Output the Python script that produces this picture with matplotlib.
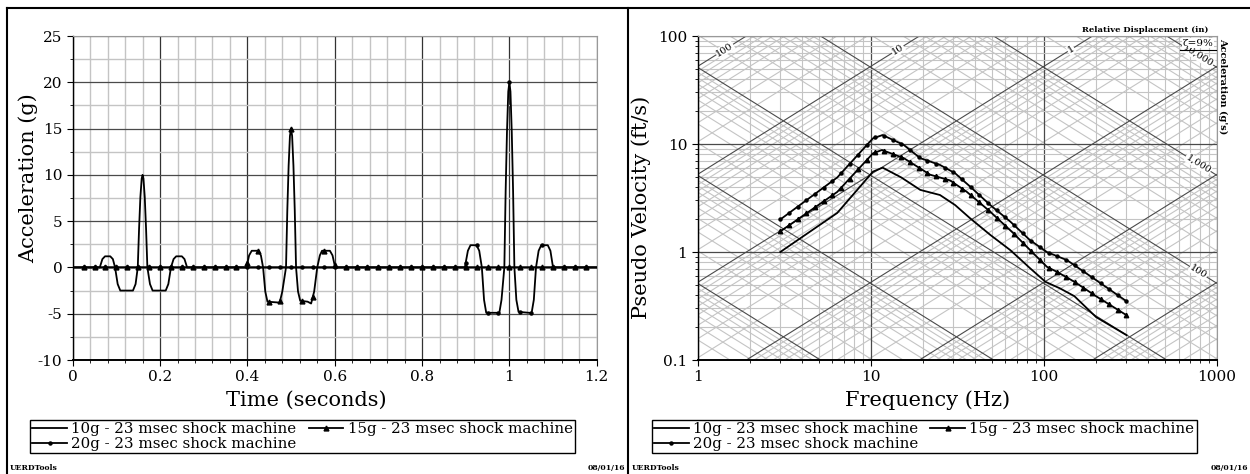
import numpy as np
import matplotlib
matplotlib.use("Agg")
import matplotlib.pyplot as plt
from matplotlib.lines import Line2D
from matplotlib.ticker import MultipleLocator, FuncFormatter, NullFormatter, LogLocator

plt.rcParams['font.family'] = 'DejaVu Serif'
plt.rcParams['axes.unicode_minus'] = False

# ---- time histories (seconds, g) ----
t10 = [0, 0.062, 0.068, 0.074, 0.086, 0.092, 0.097, 0.103, 0.109, 0.138, 0.144, 0.149,
       0.152, 0.155, 0.158, 0.160, 0.162, 0.165, 0.168, 0.171, 0.177, 0.183, 0.213,
       0.219, 0.225, 0.231, 0.237, 0.250, 0.256, 0.262, 1.2]
a10 = [0, 0, 0.9, 1.2, 1.2, 0.9, 0, -1.8, -2.5, -2.5, -1.8, 0,
       4.2, 7.6, 9.6, 10.0, 9.6, 7.6, 4.2, 0, -1.8, -2.5, -2.5,
       -1.8, 0, 0.9, 1.2, 1.2, 0.9, 0, 0]

t15 = [0, 0.398, 0.404, 0.410, 0.425, 0.431, 0.436, 0.441, 0.446, 0.474, 0.480, 0.4885,
       0.4915, 0.4945, 0.4975, 0.500, 0.5025, 0.5055, 0.5085, 0.5115, 0.516, 0.521,
       0.538, 0.546, 0.553, 0.560, 0.566, 0.571, 0.589, 0.595, 0.601, 1.2]
a15 = [0, 0, 1.3, 1.8, 1.8, 1.3, 0, -2.6, -3.7, -3.8, -2.6, 0,
       6.2, 11.0, 14.2, 15.0, 14.2, 11.0, 6.2, 0, -2.6, -3.6,
       -3.7, -3.9, -2.6, 0, 1.3, 1.8, 1.8, 1.3, 0, 0]

t20 = [0, 0.898, 0.905, 0.911, 0.925, 0.931, 0.937, 0.942, 0.947, 0.977, 0.982, 0.9885,
       0.9915, 0.9945, 0.9975, 1.000, 1.0025, 1.0055, 1.0085, 1.0115, 1.016, 1.021,
       1.045, 1.051, 1.056, 1.061, 1.067, 1.073, 1.088, 1.094, 1.100, 1.2]
a20 = [0, 0, 1.8, 2.4, 2.4, 1.8, 0, -3.5, -4.9, -4.9, -3.5, 0,
       8.3, 14.6, 19.0, 20.0, 19.0, 14.6, 8.3, 0, -3.5, -4.8,
       -4.9, -4.9, -3.5, 0, 1.8, 2.4, 2.4, 1.8, 0, 0]

# ---- pseudo velocity SRS (Hz, ft/s) ----
f10 = [3.0, 6.4, 10.3, 11.7, 15.0, 19.3, 25.1, 30.7, 37.5, 49, 64, 83, 102, 124, 150, 200, 300]
v10 = [1.0, 2.3, 5.55, 6.04, 4.9, 3.76, 3.37, 2.72, 2.05, 1.44, 1.04, 0.71, 0.53, 0.46, 0.39, 0.25, 0.17]

f15 = [3.0, 6.4, 10.3, 11.6, 15.5, 22, 28.7, 35.9, 49, 66.7, 87, 104, 120, 150, 200, 300]
v15 = [1.55, 3.6, 8.2, 8.8, 7.4, 5.2, 4.6, 3.6, 2.36, 1.49, 0.97, 0.73, 0.65, 0.53, 0.39, 0.26]

f20 = [3.0, 6.4, 10.3, 11.7, 15.5, 19.3, 25.1, 30.7, 37.5, 49, 64, 83, 104, 136, 200, 300]
v20 = [2.0, 4.9, 11.3, 12.1, 9.8, 7.4, 6.4, 5.36, 4.03, 2.72, 1.91, 1.29, 1.0, 0.84, 0.55, 0.35]

labels = ['10g - 23 msec shock machine', '15g - 23 msec shock machine',
          '20g - 23 msec shock machine']

W, H = 1250, 474
fig = plt.figure(figsize=(W / 100, H / 100), dpi=100)

light = '#c4c4c4'
dark = '#4a4a4a'
lw_line = 1.3


def px(x, y):
    return x / W, 1 - y / H


# ================= left: time history =================
ax1 = fig.add_axes([72.7 / W, 1 - 360 / H, 524 / W, 324 / H])
ax1.plot(t10, a10, color='black', lw=lw_line, zorder=3)
ax1.plot(t15, a15, color='black', lw=lw_line, zorder=3)
ax1.plot(t20, a20, color='black', lw=lw_line, zorder=3)

tm = np.arange(0.025, 1.2, 0.025)
ax1.plot(tm, np.interp(tm, t15, a15), ls='none', marker='^', ms=3.5, color='black', zorder=4)
ax1.plot(tm, np.interp(tm, t20, a20), ls='none', marker='o', ms=2.2, color='black', zorder=4)

ax1.set_xlim(0, 1.2)
ax1.set_ylim(-10, 25)
ax1.xaxis.set_major_locator(MultipleLocator(0.2))
ax1.xaxis.set_minor_locator(MultipleLocator(0.04))
ax1.yaxis.set_major_locator(MultipleLocator(5))
ax1.yaxis.set_minor_locator(MultipleLocator(2.5))
ax1.xaxis.set_major_formatter(FuncFormatter(lambda v, p: '%g' % round(v, 2)))
ax1.yaxis.set_major_formatter(FuncFormatter(lambda v, p: '%g' % v))
ax1.grid(which='minor', color=light, lw=1.0, zorder=0)
ax1.grid(which='major', axis='x', color='#333333', lw=0.9, zorder=0)
ax1.grid(which='major', axis='y', color=dark, lw=0.9, zorder=0)
ax1.set_axisbelow(True)
ax1.set_xlabel('Time (seconds)', fontsize=15)
ax1.set_ylabel('Acceleration (g)', fontsize=15)
ax1.xaxis.set_label_coords(0.445, -0.125)
ax1.yaxis.set_label_coords(-0.085, 0.56)
ax1.xaxis.label.set_va('center')
ax1.yaxis.label.set_va('center')

# ================= right: tripartite SRS =================
ax2 = fig.add_axes([697.7 / W, 1 - 360 / H, 519.3 / W, 324 / H])
ax2.set_xscale('log')
ax2.set_yscale('log')

fg = np.array([0.5, 2000.0])
g_fts = 32.174
for n in range(-5, 4):
    for k in range(1, 10):
        d = k * 10.0 ** n        # relative displacement, in
        ax2.plot(fg, 2 * np.pi * fg * d / 12, color=dark if k == 1 else light,
                 lw=0.8, zorder=1 if k == 1 else 0.5)
for n in range(-2, 6):
    for k in range(1, 10):
        a = k * 10.0 ** n        # acceleration, g
        ax2.plot(fg, a * g_fts / (2 * np.pi * fg), color=dark if k == 1 else light,
                 lw=0.8, zorder=1 if k == 1 else 0.5)

ax2.plot(f10, v10, color='black', lw=lw_line, zorder=3)
ax2.plot(f15, v15, color='black', lw=lw_line, zorder=3)
ax2.plot(f20, v20, color='black', lw=lw_line, zorder=3)

fm = np.geomspace(3, 300, 41)
lf = np.log10(fm)
ax2.plot(fm, 10 ** np.interp(lf, np.log10(f15), np.log10(v15)), ls='none', marker='^',
         ms=3.2, color='black', zorder=4)
ax2.plot(fm, 10 ** np.interp(lf, np.log10(f20), np.log10(v20)), ls='none', marker='o',
         ms=2.2, color='black', zorder=4)

ax2.set_xlim(1, 1000)
ax2.set_ylim(0.1, 100)
ax2.xaxis.set_minor_locator(LogLocator(subs=np.arange(2, 10)))
ax2.yaxis.set_minor_locator(LogLocator(subs=np.arange(2, 10)))
fmt = FuncFormatter(lambda v, p: '%g' % v)
ax2.xaxis.set_major_formatter(fmt)
ax2.yaxis.set_major_formatter(fmt)
ax2.xaxis.set_minor_formatter(NullFormatter())
ax2.yaxis.set_minor_formatter(NullFormatter())
ax2.grid(which='minor', color=light, lw=0.8, zorder=0)
ax2.grid(which='major', color=dark, lw=0.9, zorder=0)
ax2.set_axisbelow(True)
ax2.set_xlabel('Frequency (Hz)', fontsize=15)
ax2.set_ylabel('Pseudo Velocity (ft/s)', fontsize=15)
ax2.xaxis.set_label_coords(0.443, -0.125)
ax2.yaxis.set_label_coords(-0.108, 0.47)
ax2.xaxis.label.set_va('center')
ax2.yaxis.label.set_va('center')

# rotation of the diagonals on screen
ang = np.degrees(np.arctan((324 / 3) / (519.3 / 3)))
lbl_box = dict(facecolor='white', edgecolor='none', pad=0.4)
for d, txt in [(100, '100'), (10, '10'), (1, '1')]:
    f = 75 * 12 / (2 * np.pi * d)
    ax2.text(f, 75, txt, rotation=ang, fontsize=7, ha='center', va='center',
             bbox=lbl_box, zorder=2, rotation_mode='anchor')
for a, txt in [(100, '100'), (1000, '1,000'), (10000, '10,000')]:
    f = 780
    ax2.text(f, a * g_fts / (2 * np.pi * f), txt, rotation=-ang, fontsize=7,
             ha='center', va='center', bbox=lbl_box, zorder=2, rotation_mode='anchor')

for ax in (ax1, ax2):
    ax.tick_params(which='both', direction='out', labelsize=11, colors='black')
    ax.tick_params(which='major', length=4)
    ax.tick_params(which='minor', length=2)
    for s in ('top', 'right'):
        ax.spines[s].set_color('#999999')
        ax.spines[s].set_linewidth(0.8)
    ax.spines['left'].set_linewidth(1.0)
    ax.spines['bottom'].set_linewidth(1.4)

fig.text(*px(1208, 30), 'Relative Displacement (in)', fontsize=6, fontweight='bold',
         ha='right', va='center')
fig.text(*px(1198, 43), '\u03b6=9%', fontsize=7.5, ha='center', va='center',
         bbox=dict(facecolor='white', edgecolor='none', pad=0.5), zorder=5)
fig.add_artist(Line2D([1180 / W, 1216 / W], [1 - 50 / H, 1 - 50 / H], color='black', lw=0.8))
fig.text(*px(1223, 38), "Acceleration (g's)", fontsize=7, fontweight='bold', rotation=-90,
         ha='center', va='top')

# ---- legends ----
proxies = [Line2D([], [], color='black', lw=lw_line),
           Line2D([], [], color='black', lw=lw_line, marker='^', ms=3.5),
           Line2D([], [], color='black', lw=lw_line, marker='o', ms=2.2)]
order = [0, 2, 1]
for x0 in (30, 652):
    fig.legend([proxies[i] for i in order], [labels[i] for i in order], ncol=2,
               loc='upper left', bbox_to_anchor=px(x0, 420), fontsize=10.8,
               frameon=True, fancybox=False, edgecolor='black', framealpha=1,
               borderpad=0.15, labelspacing=0.05, handlelength=2.3, handletextpad=0.3,
               columnspacing=0.8, borderaxespad=0)

# ---- page frame and footers ----
fig.add_artist(Line2D([7 / W, 1], [1 - 8 / H, 1 - 8 / H], color='black', lw=1.5))
fig.add_artist(Line2D([7 / W, 7 / W], [0, 1 - 8 / H], color='black', lw=1.5))
fig.add_artist(Line2D([628 / W, 628 / W], [0, 1 - 8 / H], color='black', lw=1.5))
for xl, xr in ((10, 625), (632, 1248)):
    fig.text(*px(xl, 468), 'UERDTools', fontsize=5.5, fontweight='bold', ha='left', va='center')
    fig.text(*px(xr, 468), '08/01/16', fontsize=5.5, fontweight='bold', ha='right', va='center')

fig.savefig('out.png', dpi=100)
